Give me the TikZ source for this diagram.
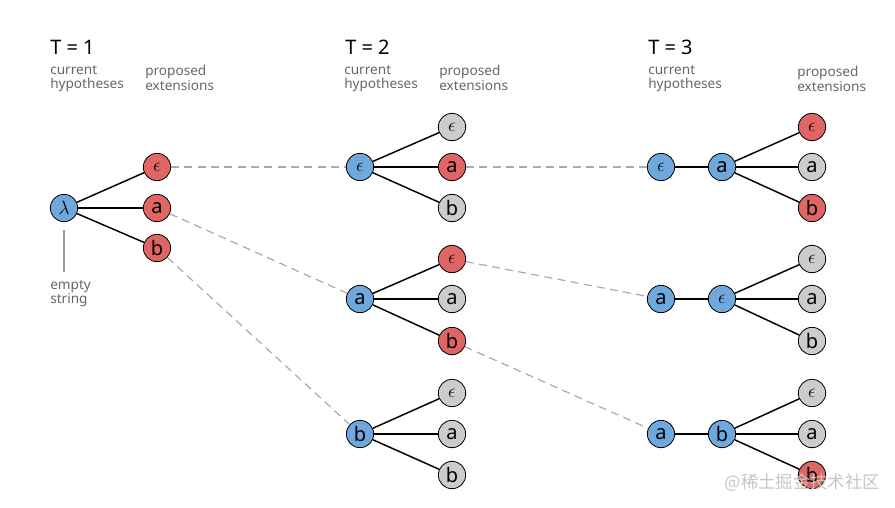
\documentclass[tikz,border=0pt]{standalone}
\usepackage{fontspec}
\setmainfont{Noto Sans}
\setsansfont{Noto Sans}
\newfontfamily\cjk{Noto Sans CJK SC}
\definecolor{hblue}{HTML}{6FA8DC}
\definecolor{hred}{HTML}{E06666}
\definecolor{hgray}{HTML}{CCCCCC}
\definecolor{lblgray}{HTML}{666666}
\definecolor{dashgray}{HTML}{AAAAAA}
\begin{document}
\begin{tikzpicture}[x=0.75pt,y=-0.75pt,
  hyp/.style={circle,draw=black,line width=0.6pt,minimum size=20.5pt,inner sep=0pt,font=\fontsize{15}{15}\selectfont},
  cur/.style={hyp,fill=hblue},
  sel/.style={hyp,fill=hred},
  oth/.style={hyp,fill=hgray},
  edge/.style={line width=1.1pt,black},
  link/.style={dashed,dash pattern=on 6pt off 4pt,line width=0.9pt,dashgray},
  title/.style={anchor=base west,font=\fontsize{15}{15}\selectfont,inner sep=0pt},
  lbl/.style={anchor=north west,align=left,text=lblgray,font=\fontsize{10.2}{11}\selectfont,inner sep=0pt}]
\useasboundingbox (0,0) rectangle (895,507);
% titles
\node[title] (t1) at (50,54) {T = 1};
\node[title] (t2) at (345,54) {T = 2};
\node[title] (t3) at (648,54) {T = 3};
\node[lbl] (c1) at (50,65) {current\\hypotheses};
\node[lbl] (p1) at (145,65) {proposed\\extensions};
\node[lbl] (c2) at (344,65) {current\\hypotheses};
\node[lbl] (p2) at (439,65) {proposed\\extensions};
\node[lbl] (c3) at (648,65) {current\\hypotheses};
\node[lbl] (p3) at (797,66) {proposed\\extensions};
% T=1
\node[cur] (l) at (64,208) {$\lambda$};
\node[sel] (e1) at (157,167) {$\epsilon$};
\node[sel] (a1) at (157,208) {a};
\node[sel] (b1) at (157,248) {b};
\foreach \n in {e1,a1,b1} \draw[edge] (l) -- (\n);
\coordinate (es) at (64,272);
\draw[gray!80,line width=0.9pt] (l.south) ++(0,8) coordinate (et) -- (es);
\node[lbl] (empty) at (50,280) {empty\\string};
% T=2 group 1
\node[cur] (r21) at (360,167) {$\epsilon$};
\node[oth] (c21e) at (452,127) {$\epsilon$};
\node[sel] (c21a) at (452,167) {a};
\node[oth] (c21b) at (452,208) {b};
% T=2 group 2
\node[cur] (r22) at (360,299) {a};
\node[sel] (c22e) at (452,259) {$\epsilon$};
\node[oth] (c22a) at (452,299) {a};
\node[sel] (c22b) at (452,341) {b};
% T=2 group 3
\node[cur] (r23) at (360,434) {b};
\node[oth] (c23e) at (452,393) {$\epsilon$};
\node[oth] (c23a) at (452,434) {a};
\node[oth] (c23b) at (452,475) {b};
\foreach \g in {21,22,23} {
  \foreach \k in {e,a,b} \draw[edge] (r\g) -- (c\g\k);
}
% T=3 group 1
\node[cur] (q31) at (661,167) {$\epsilon$};
\node[cur] (r31) at (722,167) {a};
\node[sel] (c31e) at (812,127) {$\epsilon$};
\node[oth] (c31a) at (812,167) {a};
\node[sel] (c31b) at (812,208) {b};
% T=3 group 2
\node[cur] (q32) at (661,299) {a};
\node[cur] (r32) at (722,299) {$\epsilon$};
\node[oth] (c32e) at (812,259) {$\epsilon$};
\node[oth] (c32a) at (812,299) {a};
\node[oth] (c32b) at (812,341) {b};
% T=3 group 3
\node[cur] (q33) at (661,434) {a};
\node[cur] (r33) at (722,434) {b};
\node[oth] (c33e) at (812,393) {$\epsilon$};
\node[oth] (c33a) at (812,434) {a};
\node[sel] (c33b) at (812,475) {b};
\foreach \g in {31,32,33} {
  \draw[edge] (q\g) -- (r\g);
  \foreach \k in {e,a,b} \draw[edge] (r\g) -- (c\g\k);
}
% dashed links
\draw[link] (e1) -- (r21);
\draw[link] (a1) -- (r22);
\draw[link] (b1) -- (r23);
\draw[link] (c21a) -- (q31);
\draw[link] (c22e) -- (q32);
\draw[link] (c22b) -- (q33);
% watermark
\node[anchor=base east,inner sep=0pt,text=gray!45,font=\cjk\fontsize{13}{13}\selectfont] (wm) at (880,488) {@稀土掘金技术社区};
\end{tikzpicture}
\end{document}
